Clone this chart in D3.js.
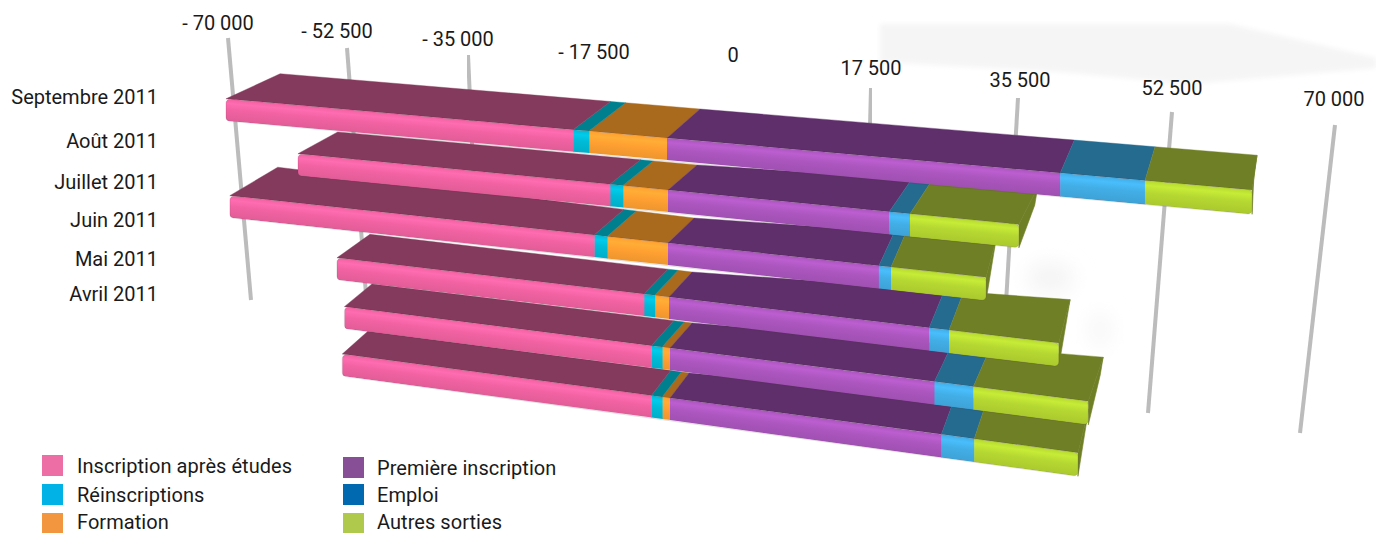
<!DOCTYPE html>
<html>
<head>
<meta charset="utf-8">
<script src="https://cdn.jsdelivr.net/npm/d3@7"></script>
<style>
  html, body { margin: 0; padding: 0; background: #fff; overflow: hidden; }
  text { font-family: "Roboto", sans-serif; fill: #1a1a1a; }
</style>
</head>
<body>
<svg id="chart" width="1376" height="533"></svg>
<script>
const months = ["Septembre 2011", "Août 2011", "Juillet 2011", "Juin 2011", "Mai 2011", "Avril 2011"]

// negative side, counted from zero outwards
const formation = [-10900, -6300, -8500, -2000, -1100, -1100]
const reinscriptions = [-2200, -1800, -1800, -1500, -1500, -1500]
const inscriptionEtudes = [-48400, -43500, -50800, -42800, -42800, -43100]
// positive side
const premiereInscription = [45500, 25600, 24400, 30100, 30600, 31400]
const emploi = [9800, 2400, 1400, 2300, 4500, 3800]
const autresSorties = [12400, 12600, 11000, 12700, 13300, 12000]

const tickValues = [-70000, -52500, -35000, -17500, 0, 17500, 35000, 52500, 70000]
const tickLabels = ["- 70 000", "- 52 500", "- 35 000", "- 17 500", "0", "17 500", "35 500", "52 500", "70 000"]

const seriesNames = ["Inscription après études", "Réinscriptions", "Formation", "Première inscription", "Emploi", "Autres sorties"]
const seriesValues = [inscriptionEtudes, reinscriptions, formation, premiereInscription, emploi, autresSorties]

// colours per series, same order as seriesNames
const legendColors = ["#ec6ea4", "#00b2e6", "#f2963f", "#874f96", "#0069b0", "#aec94c"]
const frontColors = ["#e95f9c", "#00b4cf", "#f69a30", "#a653b8", "#40a8de", "#b0d030"]
const topColors = ["#843a5c", "#00808e", "#a96a1e", "#5f2f6b", "#256a8f", "#6f7f26"]

// hand-fitted perspective of the picture, one entry per row
const frontZeroX = [667, 668, 668, 669, 670, 670]
const frontZeroY = [138, 190, 243, 297, 348, 398]
const frontSlope = [.0888, .098, .108, .118, .127, .134]
const backZeroShift = [33, 29, 26, 23, 22, 19]
const backZeroY = [109, 165, 218, 272, 323, 373]
const backSlopeLeft = [.084, .092, .122, .117, .122, .13]
const backSlopeRight = [.083, .065, .07, .073, .083, .09]
const backStretch = [.952, .971, .95, .97, .983, .98]
const faceHeight = 22

const svg = d3.select("#chart")
const defs = svg.append("defs")

defs.append("filter").attr("id", "soft").attr("x", "-50%").attr("y", "-50%").attr("width", "200%").attr("height", "200%")
  .append("feGaussianBlur").attr("stdDeviation", 10)
defs.append("filter").attr("id", "softEdge").attr("x", "-10%").attr("y", "-20%").attr("width", "120%").attr("height", "140%")
  .append("feGaussianBlur").attr("stdDeviation", 2.5)
defs.append("filter").attr("id", "axisBlur")
  .append("feGaussianBlur").attr("stdDeviation", .6)

// value to x on the front edge of a bar
const x = d3.scaleLinear().domain([-70000, 0, 70000]).range([165, 667, 1272])

const axisTopX = d3.scaleLinear().domain(tickValues).range([228, 347, 468, 597, 730, 871, 1018, 1172, 1335])
const axisTopY = d3.scaleLinear().domain(tickValues).range([38, 48, 55, 68, 78, 88, 98, 112, 125])
const axisBottomX = d3.scaleLinear().domain(tickValues).range([251, 368, 476, 597, 730, 865, 1005, 1148, 1300])
const axisBottomY = d3.scaleLinear().domain(tickValues).range([300, 320, 230, 320, 320, 320, 320, 413, 433])

const labelX = d3.scaleLinear().domain(tickValues).range([218, 337, 458, 594, 733, 871, 1020, 1172, 1334])
const labelY = d3.scaleLinear().domain(tickValues).range([30, 38, 46, 59, 62, 75, 87, 95, 106])

function frontPoint(r, px, down) {
  let xx = px + frontZeroX[r] - 667
  let yy = frontZeroY[r] + frontSlope[r] * (xx - frontZeroX[r])
  return [xx, yy + (down ? faceHeight + Math.max(0, xx - 667) * .004 : 0)]
}

function backPoint(r, px) {
  let xx = px + frontZeroX[r] - 667
  let bx = frontZeroX[r] + backZeroShift[r] + backStretch[r] * (xx - frontZeroX[r])
  let dx = bx - frontZeroX[r] - backZeroShift[r]
  return [bx, backZeroY[r] + (dx < 0 ? backSlopeLeft[r] : backSlopeRight[r]) * dx]
}

// pale grey residue in the background of the picture
svg.append("path")
  .attr("d", "M880,24L1230,24L1376,58L1376,68L1190,84L1060,72L880,62Z")
  .attr("fill", "#f5f5f5")
  .attr("filter", "url(#softEdge)")
const smudges = svg.append("g").attr("filter", "url(#soft)")
smudges.append("ellipse").attr("cx", 1050).attr("cy", 278).attr("rx", 24).attr("ry", 16).attr("fill", "#f4f4f4")
smudges.append("ellipse").attr("cx", 1100).attr("cy", 330).attr("rx", 12).attr("ry", 18).attr("fill", "#f7f7f7")

svg.append("g").selectAll("line")
  .data(tickValues)
  .join("line")
  .attr("x1", d => axisTopX(d))
  .attr("y1", d => axisTopY(d))
  .attr("x2", d => axisBottomX(d))
  .attr("y2", d => axisBottomY(d))
  .attr("stroke", "#bcbcbc")
  .attr("stroke-width", 4)
  .attr("filter", "url(#axisBlur)")

svg.append("g").selectAll("text")
  .data(tickValues)
  .join("text")
  .attr("x", d => labelX(d))
  .attr("y", d => labelY(d))
  .attr("text-anchor", "middle")
  .attr("font-size", 20)
  .text((d, i) => tickLabels[i])

// stack with the negative series going left from zero
const rows = months.map((m, r) => {
  let row = { month: m }
  seriesNames.forEach((s, i) => { row[s] = seriesValues[i][r] })
  return row
})
const stackKeys = [seriesNames[2], seriesNames[1], seriesNames[0], seriesNames[3], seriesNames[4], seriesNames[5]]
const stacked = d3.stack().keys(stackKeys).offset(d3.stackOffsetDiverging)(rows)

function polyPath(points) {
  return "M" + points.map(p => p.join(",")).join("L") + "Z"
}

function roundedPath(points, radius) {
  let path = d3.path()
  let n = points.length
  let start = [(points[0][0] + points[1][0]) / 2, (points[0][1] + points[1][1]) / 2]
  path.moveTo(start[0], start[1])
  for (let i = 1; i <= n; i++) {
    let a = points[i % n]
    let b = points[(i + 1) % n]
    path.arcTo(a[0], a[1], b[0], b[1], radius)
  }
  path.closePath()
  return path.toString()
}

const bars = svg.append("g")

// in the picture the upper bars sit on top of the lower ones, so draw bottom up
d3.range(months.length - 1, -1, -1).forEach(r => {
  let g = bars.append("g").attr("class", "bar")
  let segs = stacked.map(s => {
    let lo = Math.min(s[r][0], s[r][1])
    let hi = Math.max(s[r][0], s[r][1])
    return { name: s.key, idx: seriesNames.indexOf(s.key), x0: x(lo), x1: x(hi) }
  })
  let left = d3.min(segs, d => d.x0)
  let right = d3.max(segs, d => d.x1)

  // right end of the bar
  let bt = backPoint(r, right)
  g.append("path")
    .attr("d", polyPath([frontPoint(r, right, false), bt, [bt[0] - 3, bt[1] + 18], frontPoint(r, right, true)]))
    .attr("fill", topColors[5])
    .attr("stroke", topColors[5])
    .attr("stroke-width", .6)

  g.selectAll("path.top")
    .data(segs)
    .join("path")
    .attr("class", "top")
    .attr("d", d => polyPath([frontPoint(r, d.x0, false), backPoint(r, d.x0), backPoint(r, d.x1), frontPoint(r, d.x1, false)]))
    .attr("fill", d => topColors[d.idx])
    .attr("stroke", d => topColors[d.idx])
    .attr("stroke-width", .4)

  defs.append("clipPath").attr("id", "clip" + r)
    .append("path")
    .attr("d", roundedPath([frontPoint(r, left, false), frontPoint(r, right, false), frontPoint(r, right, true), frontPoint(r, left, true)], 4))

  let face = g.append("g").attr("clip-path", `url(#clip${r})`)

  segs.forEach(d => {
    // gradient runs across the face, square to its slant
    let id = `grad${r}_${d.idx}`
    let a = frontPoint(r, d.x0, false)
    let b = frontPoint(r, d.x0, true)
    let grad = defs.append("linearGradient").attr("id", id)
      .attr("gradientUnits", "userSpaceOnUse")
      .attr("x1", a[0]).attr("y1", a[1])
      .attr("x2", b[0] - frontSlope[r] * (b[1] - a[1])).attr("y2", b[1])
    let c = d3.color(frontColors[d.idx])
    grad.append("stop").attr("offset", 0).attr("stop-color", c.brighter(.1))
    grad.append("stop").attr("offset", .2).attr("stop-color", c.brighter(.35))
    grad.append("stop").attr("offset", .5).attr("stop-color", c.brighter(.1))
    grad.append("stop").attr("offset", 1).attr("stop-color", c.darker(.1))

    face.append("path")
      .attr("d", polyPath([frontPoint(r, d.x0, false), frontPoint(r, d.x1 + .5, false), frontPoint(r, d.x1 + .5, true), frontPoint(r, d.x0, true)]))
      .attr("fill", `url(#${id})`)
  })

  g.append("path")
    .attr("d", roundedPath([frontPoint(r, left, false), frontPoint(r, right, false), frontPoint(r, right, true), frontPoint(r, left, true)], 4))
    .attr("fill", "none")
    .attr("stroke", "#4a3040")
    .attr("stroke-opacity", .2)
    .attr("stroke-width", .8)
})

const monthLabelY = [104, 148, 189, 227, 266, 301]
svg.append("g").selectAll("text")
  .data(months)
  .join("text")
  .attr("x", 158)
  .attr("y", (d, i) => monthLabelY[i])
  .attr("text-anchor", "end")
  .attr("font-size", 20)
  .text(d => d)

const legendX = [42, 42, 42, 343, 343, 343]
const legendY = [455, 484, 513, 457, 484, 513]
const legendTextY = [18, 18, 15.5, 18, 18, 15.5]
const legend = svg.append("g").selectAll("g")
  .data(seriesNames)
  .join("g")
  .attr("transform", (d, i) => `translate(${legendX[i]},${legendY[i]})`)
legend.append("rect")
  .attr("width", 21)
  .attr("height", 21)
  .attr("fill", (d, i) => legendColors[i])
legend.append("text")
  .attr("x", (d, i) => i < 3 ? 35 : 34)
  .attr("y", (d, i) => legendTextY[i])
  .attr("font-size", 20)
  .attr("letter-spacing", .05)
  .text(d => d)
</script>
</body>
</html>
